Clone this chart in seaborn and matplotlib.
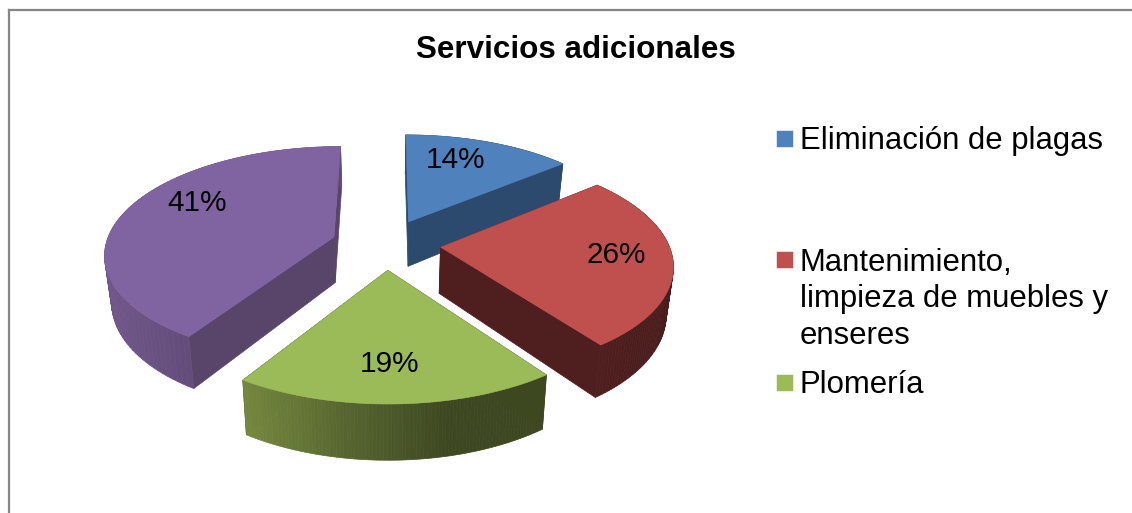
import numpy as np
import matplotlib
matplotlib.use("Agg")
import matplotlib.pyplot as plt
from matplotlib.patches import Rectangle
import seaborn as sns

# ---- data ----
title = "Servicios adicionales"
categories = ["Eliminación de plagas",
              "Mantenimiento,\nlimpieza de muebles y\nenseres",
              "Plomería"]
wedge_names = ["Eliminación de plagas", "Mantenimiento", "Plomería", "Otros"]
shares = [14, 26, 19, 41]
top_colors = ["#4F81BD", "#C0504D", "#9BBB59", "#8064A2"]
cut_colors = ["#2C4A6E", "#4F1E1E", "#3D4821", "#594569"]
wall_ramps = [["#2C4A6E", "#2C4A6E"],
              ["#4F1E1E", "#4A1C1C"],
              ["#75883F", "#56652F", "#3D4821", "#3D4821"],
              ["#705789", "#634C7A"]]

# ---- perspective view of the exploded pie ----
CX, CY = 386.0, 244.0
AX, BY, K = 228.0, 105.6, 0.1466
EXPLODE = 0.24
DEPTH, SHRINK = 46.0, 0.975


def project(X, Y, lower=False):
    w = 1 + K * Y
    x = AX * X / w
    y = CY - BY * Y / w
    if lower:
        x = x * SHRINK
        y = y + DEPTH / w
    return CX + x, y


sns.set_theme(style="white")
plt.rcParams["font.family"] = ["Liberation Sans", "DejaVu Sans"]

fig = plt.figure(figsize=(11.32, 5.13), dpi=100, facecolor="white")
ax = fig.add_axes([8.5 / 1132, 0, 1 - 8.5 / 1132, 503 / 513])
ax.set_xlim(8.5, 1132)
ax.set_ylim(513, 10)
ax.set_xticks([])
ax.set_yticks([])
sns.despine(ax=ax, top=False, left=False, right=True, bottom=True)
for side in ("top", "left"):
    ax.spines[side].set_color("#868686")
    ax.spines[side].set_linewidth(1.6)

edges = np.concatenate([[0], np.cumsum(shares)]) / np.sum(shares) * 2 * np.pi
draw_order = [0, 3, 1, 2]          # back to front

for i in draw_order:
    a0, a1 = edges[i], edges[i + 1]
    mid = (a0 + a1) / 2
    ox, oy = EXPLODE * np.sin(mid), EXPLODE * np.cos(mid)
    th = np.linspace(a0, a1, 90)
    X, Y = ox + np.sin(th), oy + np.cos(th)
    tx, ty = project(X, Y)
    bx, by = project(X, Y, lower=True)
    ax0, ay0 = project(ox, oy)
    bx0, by0 = project(ox, oy, lower=True)

    # flat cut faces
    for j in (0, -1):
        ax.fill([ax0, tx[j], bx[j], bx0], [ay0, ty[j], by[j], by0],
                color=cut_colors[i], lw=0.5, zorder=2 + draw_order.index(i) * 3)

    # outer wall, shaded from left to right along its visible part
    ramp = sns.blend_palette(wall_ramps[i], 64)
    front = np.cos(th) < 0
    xlo, xhi = (tx[front].min(), tx[front].max()) if front.any() else (tx.min(), tx.max())
    for k in range(len(th) - 1):
        t = np.clip(((tx[k] + tx[k + 1]) / 2 - xlo) / max(xhi - xlo, 1), 0, 1)
        ax.fill([tx[k], tx[k + 1], bx[k + 1], bx[k]],
                [ty[k], ty[k + 1], by[k + 1], by[k]],
                color=ramp[int(t * 63)], lw=0.5,
                zorder=3 + draw_order.index(i) * 3)

    # top surface
    ax.fill(np.r_[ax0, tx], np.r_[ay0, ty], color=top_colors[i], lw=0.4,
            zorder=4 + draw_order.index(i) * 3)

# percentage labels
label_x = [455, 616, 389, 197]
label_y = [160, 255, 364, 203]
for v, x, y in zip(shares, label_x, label_y):
    ax.text(x, y, f"{v}%", ha="center", va="center", fontsize=21.4,
            color="black", zorder=30)

# title
ax.text(576, 50, title, ha="center", va="center", fontsize=22.6,
        fontweight="bold", color="black", zorder=30)

# legend
legend_y = [138, 259.5, 382]
text_tops = [137, 297, 382]
for name, color, y in zip(categories, top_colors, legend_y):
    ax.add_patch(Rectangle((776, y - 8.5), 17, 17, facecolor=color,
                           edgecolor="white", lw=0.4, zorder=30))
    ax.text(800, y - 12, name, ha="left", va="top", fontsize=22.4,
            color="black", linespacing=1.3, zorder=30)

fig.savefig("out.png", dpi=100, facecolor="white")
